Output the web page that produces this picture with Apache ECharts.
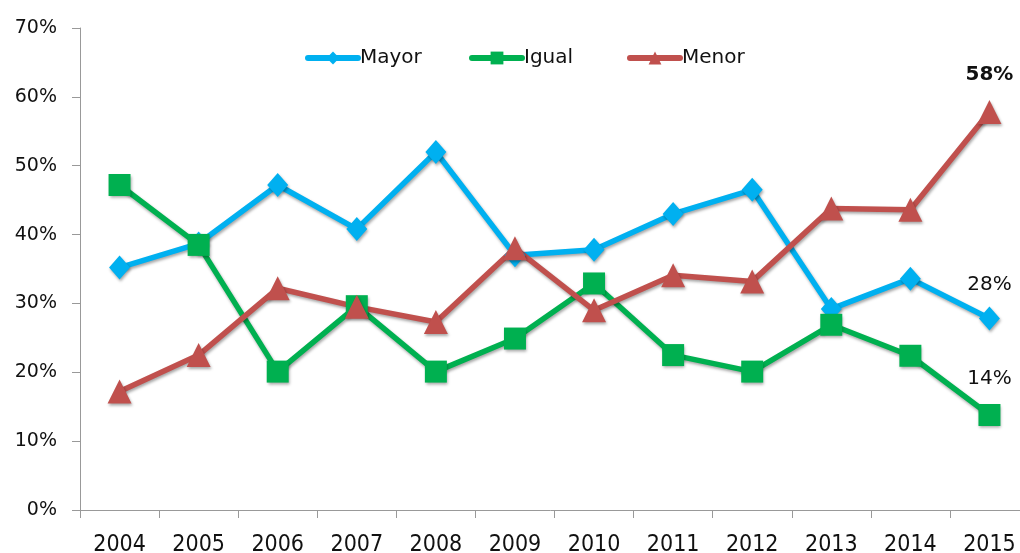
<!DOCTYPE html>
<html>
<head>
<meta charset="utf-8">
<script src="https://cdn.jsdelivr.net/npm/echarts@6/dist/echarts.min.js"></script>
<style>
html,body{margin:0;padding:0;background:#fff}
#main{width:1020px;height:553px}
</style>
</head>
<body>
<div id="main"></div>
<script>
var years = ['2004','2005','2006','2007','2008','2009','2010','2011','2012','2013','2014','2015']
var mayor = [35.2, 38.7, 47.2, 40.8, 52.0, 37.0, 37.8, 43.0, 46.5, 29.2, 33.6, 27.8]
var igual = [47.2, 38.5, 20.1, 29.6, 20.1, 24.9, 32.9, 22.5, 20.1, 26.9, 22.4, 13.8]
var menor = [17.2, 22.5, 32.2, 29.5, 27.3, 38.0, 29.0, 34.1, 33.2, 43.8, 43.6, 57.8]
var yTicks = [0, 10, 20, 30, 40, 50, 60, 70]
var names = ['Mayor', 'Igual', 'Menor']
var colors = ['#00B0F0', '#00B050', '#C0504D']

var chart = echarts.init(document.getElementById('main'))

// solo el ultimo punto lleva etiqueta
function withEndLabel(arr, bold, dist) {
	return arr.map(function (v, i) {
		if (i !== arr.length - 1) return v
		return {
			value: v,
			label: {
				show: true,
				position: 'top',
				distance: dist,
				formatter: Math.round(v) + '%',
				color: '#111',
				fontFamily: 'DejaVu Sans',
				fontSize: 20,
				fontWeight: bold ? 'bold' : 'normal'
			}
		}
	})
}

var shadow = {shadowBlur: 3, shadowColor: 'rgba(0,0,0,0.35)', shadowOffsetX: 1, shadowOffsetY: 2}

function makeSeries(name, data, color, symbol, size, bold, dist) {
	return {
		name: name,
		type: 'line',
		data: withEndLabel(data, bold, dist),
		symbol: symbol,
		symbolSize: size,
		showAllSymbol: true,
		lineStyle: Object.assign({width: 5.5, color: color}, shadow),
		itemStyle: Object.assign({color: color}, shadow),
		emphasis: {disabled: true}
	}
}

// una leyenda por serie para colocarlas donde estan en el original
var legendLeft = [300, 464, 622]
var legends = names.map(function (n, i) {
	return {
		top: 43,
		left: legendLeft[i],
		itemWidth: 50,
		itemHeight: 16,
		lineStyle: {width: 6, cap: 'round', shadowBlur: 0, shadowOffsetX: 0, shadowOffsetY: 0},
		itemStyle: {shadowBlur: 0, shadowOffsetX: 0, shadowOffsetY: 0},
		textStyle: {fontFamily: 'DejaVu Sans', fontSize: 20, color: '#111', padding: [0, 0, 0, -3]},
		data: [n]
	}
})

var option = {
	animation: false,
	color: colors,
	grid: {left: 80, top: 28, bottom: 43, right: -9, outerBoundsMode: 'none', containLabel: false},
	legend: legends,
	xAxis: {
		type: 'category',
		data: years,
		boundaryGap: true,
		axisLine: {lineStyle: {color: '#999', width: 1}},
		axisTick: {show: true, length: 8, lineStyle: {color: '#999'}},
		axisLabel: {margin: 24, fontFamily: 'DejaVu Sans Condensed', fontSize: 23, color: '#111'}
	},
	yAxis: {
		type: 'value',
		min: yTicks[0],
		max: yTicks[yTicks.length - 1],
		interval: 10,
		axisLine: {show: true, lineStyle: {color: '#999', width: 1}},
		axisTick: {show: true, length: 8, lineStyle: {color: '#999'}},
		splitLine: {show: false},
		axisLabel: {margin: 23, fontFamily: 'DejaVu Sans', fontSize: 19, color: '#111', formatter: '{value}%'}
	},
	series: [
		makeSeries(names[0], mayor, colors[0], 'diamond', [21, 24], false, 12),
		makeSeries(names[1], igual, colors[1], 'rect', 22, false, 15),
		makeSeries(names[2], menor, colors[2], 'triangle', 24, true, 15)
	]
}
chart.setOption(option)
</script>
</body>
</html>
